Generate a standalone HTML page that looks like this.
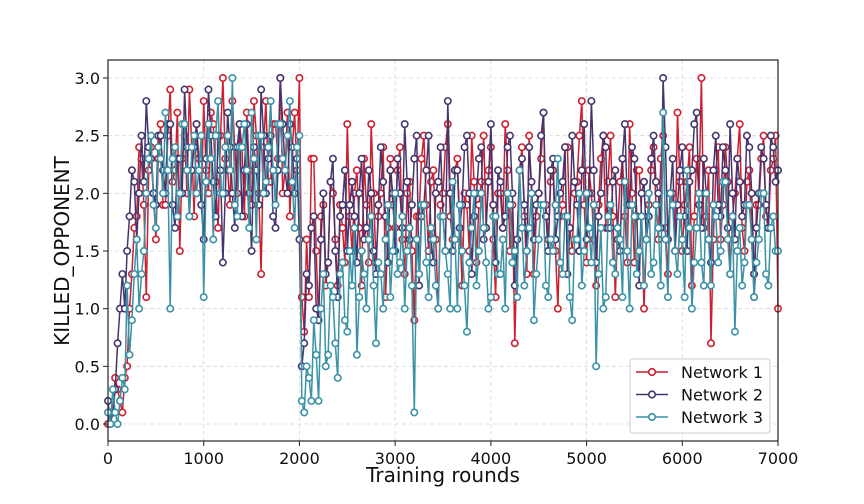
<!DOCTYPE html>
<html><head><meta charset="utf-8"><style>
body{margin:0;background:#fff;}
svg{display:block;font-family:"DejaVu Sans","Liberation Sans",sans-serif;}
</style></head><body>
<svg id="chart" width="864" height="504">
<g id="grid"></g>
<g id="series"></g>
<rect x="108" y="60" width="670" height="381" fill="none" stroke="#222" stroke-width="1.2"/>
<g id="axes"></g>
<text x="443" y="482" text-anchor="middle" font-size="20" fill="#111">Training rounds</text>
<text transform="translate(69,251) rotate(-90)" text-anchor="middle" font-size="20" fill="#111">KILLED_OPPONENT</text>
<g id="legend"></g>
</svg>
<script>
const xTicks=[0,1000,2000,3000,4000,5000,6000,7000];
const yTicks=[0,0.5,1.0,1.5,2.0,2.5,3.0];
const seriesNames=["Network 1","Network 2","Network 3"];
const seriesColors=["#cc1f2f","#45356f","#3a92a6"];
const xMax=7000;
const net1=[0,0.1,0.1,0.4,0.3,0.2,0.1,0.4,0.5,1.0,1.3,1.7,1.8,2.4,2.3,1.9,1.1,2.2,
2.4,2.0,1.6,2.3,2.6,1.9,1.9,2.5,2.9,2.1,2.2,2.7,1.5,2.3,2.5,2.0,2.9,2.4,1.8,2.6,2.3,1.9,2.8,2.2,2.0,2.7,2.6,2.1,1.7,2.5,3.0,2.3,2.2,1.9,2.8,2.4,2.0,2.6,2.4,1.8,2.7,2.2,1.9,2.8,2.5,2.0,1.3,2.4,2.8,2.1,2.1,2.6,2.6,2.3,3.0,2.0,2.2,2.7,1.8,2.4,2.7,2.2,3.0,1.1,
0.8,1.6,1.1,2.3,2.3,1.5,0.9,1.8,1.9,1.2,1.4,2.1,2.0,1.6,1.2,1.9,1.7,1.4,2.6,1.8,
1.5,2.0,2.2,1.7,1.2,2.3,1.9,1.4,2.6,2.0,1.4,1.8,2.0,2.4,1.1,1.7,2.3,1.9,1.7,2.2,
2.4,1.6,1.3,2.0,2.1,1.5,0.9,1.8,1.8,2.3,2.5,1.9,1.5,2.1,2.2,1.6,1.0,1.9,2.0,2.4,
2.6,1.8,1.6,2.2,2.3,1.7,1.2,2.0,1.9,1.5,2.5,2.1,1.4,1.9,2.1,2.5,1.7,2.2,2.4,1.6,
1.1,2.0,2.0,1.7,2.6,2.2,1.5,1.9,0.7,1.6,2.2,2.4,1.8,1.3,2.5,2.0,1.3,1.8,2.0,2.3,
2.7,1.9,1.6,2.1,2.2,1.5,1.0,1.8,1.9,2.4,2.4,1.7,1.5,2.0,2.1,2.5,2.8,1.9,1.4,2.2,
2.0,1.6,1.2,1.9,2.3,2.5,1.7,2.1,2.5,1.8,1.1,1.7,2.1,2.3,1.8,1.4,2.6,2.0,1.4,2.2,
2.2,1.8,1.0,1.6,1.9,2.2,2.4,1.9,1.6,2.3,2.5,1.7,1.3,2.0,2.0,1.5,2.7,2.1,1.5,1.9,
2.1,2.4,1.2,1.8,2.3,2.0,3.0,1.7,1.8,2.2,0.7,1.6,2.2,2.4,1.6,1.9,2.4,2.1,1.3,1.8,
2.0,2.3,2.6,1.7,1.5,2.1,2.2,1.6,1.1,1.9,1.9,2.3,2.5,1.8,1.7,2.2,2.3,2.5,1.0];
const net2=[0.2,0.0,0.1,0.3,0.7,1.0,1.3,1.0,1.5,1.8,2.2,2.1,1.6,2.0,2.5,2.1,2.8,2.4,
2.3,2.0,1.9,2.5,2.5,2.2,2.0,2.6,2.6,1.9,1.7,2.3,2.3,2.0,2.9,2.4,1.8,2.2,2.4,2.6,2.2,1.9,1.6,2.3,2.9,2.5,2.1,1.8,2.5,2.2,1.4,2.0,2.7,2.4,2.0,1.7,2.4,2.6,1.8,2.2,2.6,2.0,1.5,2.4,2.2,1.9,2.9,2.5,2.0,2.3,2.5,1.8,1.7,2.2,3.0,2.6,2.2,2.0,2.6,2.4,2.0,2.3,1.6,0.5,
0.7,1.3,1.2,1.7,1.8,1.0,0.9,1.6,2.0,1.3,1.4,2.1,2.3,1.5,1.1,1.8,1.9,2.2,1.5,1.9,
2.1,1.8,1.4,2.0,2.3,1.6,1.7,2.2,2.0,1.5,1.3,1.9,2.4,2.1,1.8,1.4,2.2,2.0,1.5,2.3,
2.0,1.7,2.6,2.1,1.6,1.9,2.3,2.5,1.2,1.8,1.9,2.2,2.5,1.6,1.4,2.0,2.1,2.4,1.8,1.5,
2.8,2.0,1.5,2.2,2.2,1.7,1.9,2.4,2.5,2.0,1.3,1.8,2.0,2.3,2.4,1.6,1.7,2.1,2.6,1.9,
1.4,2.2,2.1,1.7,1.8,2.4,2.5,2.0,1.2,1.6,2.2,2.3,1.9,1.5,2.4,2.1,1.6,1.9,2.0,2.5,
2.7,1.8,1.5,2.2,2.3,1.6,1.8,2.0,2.1,2.4,1.3,1.7,2.5,2.1,1.9,1.5,2.2,2.6,1.6,2.0,
2.8,2.2,1.4,1.8,2.0,2.5,2.4,1.7,1.7,2.1,2.2,1.6,1.5,2.3,2.6,1.9,1.9,2.4,2.3,1.8,
1.2,2.0,2.1,1.6,1.8,2.3,2.5,2.1,2.0,1.7,3.0,2.4,1.6,2.0,2.3,1.5,1.9,2.2,2.4,1.8,
1.5,2.1,2.2,2.6,2.7,1.9,1.7,2.3,2.0,1.6,1.4,2.2,2.5,1.9,1.8,2.4,2.2,1.7,2.6,2.0,
1.6,2.3,2.1,1.8,1.9,2.5,2.4,2.0,1.3,1.7,2.0,2.4,2.3,1.9,1.7,2.5,2.4,2.1,2.2];
const net3=[0.1,0.0,0.3,0.1,0.0,0.2,0.4,0.3,1.2,0.6,0.9,1.3,1.6,1.0,1.3,1.5,2.0,2.3,
2.5,1.9,1.7,2.4,2.3,2.0,2.7,2.2,1.0,2.3,2.4,1.8,2.0,2.6,2.6,2.2,1.8,2.4,2.5,2.0,2.2,2.5,1.1,2.1,2.6,2.3,1.6,2.5,2.8,2.0,2.0,2.4,2.5,2.2,3.0,1.9,1.8,2.4,2.4,2.6,2.2,1.7,2.7,2.3,1.6,2.5,2.5,2.0,2.1,2.4,2.8,2.2,1.9,2.6,2.6,2.3,2.2,2.5,2.8,2.1,1.7,2.4,2.5,0.2,
0.1,0.5,0.4,0.2,0.9,0.6,0.2,1.0,1.3,0.5,0.6,1.2,1.1,0.7,0.4,1.3,1.4,0.9,0.8,1.5,
1.2,1.7,0.6,1.1,1.5,1.3,1.0,1.6,1.8,1.2,0.7,1.4,1.3,1.0,1.6,1.9,1.1,1.5,2.0,1.3,
1.4,1.8,1.0,1.5,1.7,1.2,0.1,1.6,1.3,1.9,1.9,1.4,1.1,1.7,1.6,1.2,1.0,1.8,1.8,1.5,
1.3,1.0,2.1,1.6,1.0,1.9,1.5,1.2,0.8,1.4,1.7,2.0,1.2,1.5,2.0,1.7,1.4,1.0,1.1,1.8,
1.8,1.3,1.3,1.6,1.0,2.0,1.9,1.4,1.5,1.1,2.2,1.7,1.2,1.5,1.7,2.0,0.9,1.3,1.6,1.9,
1.9,1.2,1.1,1.6,1.5,1.9,2.3,1.4,1.3,1.8,1.8,1.1,0.9,1.6,1.6,2.0,1.2,1.5,2.0,1.7,
1.4,1.9,0.5,1.3,1.7,1.0,1.1,1.8,1.9,1.4,1.3,1.7,1.6,1.1,2.1,1.5,1.0,1.9,1.8,1.3,
1.5,1.8,1.2,1.6,2.0,1.3,1.4,1.9,1.7,1.2,2.7,1.6,1.1,2.0,1.9,1.5,1.3,1.8,1.6,1.1,
2.2,1.7,1.0,1.4,1.7,2.0,1.4,1.2,2.0,1.6,1.2,1.9,1.8,1.4,1.5,2.1,2.1,1.6,1.3,1.8,
0.8,1.5,1.7,1.2,1.4,1.9,1.9,1.6,1.1,1.4,1.6,2.0,2.0,1.3,1.2,1.7,1.8,1.5,1.5];
const allSeries=[net1,net2,net3];

const NS="http://www.w3.org/2000/svg";
function xs(v){return 108+v*(670/7000);}
function ys(v){return 424-v*(346/3);}
function mk(tag,attrs,parent){const e=document.createElementNS(NS,tag);for(const k in attrs)e.setAttribute(k,attrs[k]);parent.appendChild(e);return e;}
const grid=document.getElementById('grid'),axes=document.getElementById('axes');
xTicks.forEach(t=>{
  const g=mk('line',{x1:xs(t),x2:xs(t),y1:60,y2:441,stroke:'#d6d6d6','stroke-dasharray':'4,3','stroke-width':0.8},grid);
  
  
  const tk=mk('line',{x1:xs(t),x2:xs(t),y1:441,y2:446,stroke:'#222'},axes);
  
  
  const tx=mk('text',{x:xs(t),y:464,'text-anchor':'middle','font-size':16,fill:'#111'},axes);
  tx.textContent=t;
  
  
});
yTicks.forEach(t=>{
  const g=mk('line',{x1:108,x2:778,y1:ys(t),y2:ys(t),stroke:'#d6d6d6','stroke-dasharray':'4,3','stroke-width':0.8},grid);
  
  
  const tk=mk('line',{x1:103,x2:108,y1:ys(t),y2:ys(t),stroke:'#222'},axes);
  
  
  const tx=mk('text',{x:100,y:ys(t)+6,'text-anchor':'end','font-size':16,fill:'#111'},axes);
  tx.textContent=t.toFixed(1);
  
  
});
const sl=document.getElementById('series');
allSeries.forEach((arr,si)=>{
  const step=xMax/(arr.length-1);
  const g=mk('g',{},sl);
  
  
  const pts=arr.map((v,i)=>xs(i*step).toFixed(1)+','+ys(v).toFixed(1)).join(' ');
  const pl=mk('polyline',{points:pts,fill:'none',stroke:seriesColors[si],'stroke-width':1.5},g);
  
  
  arr.forEach((v,i)=>{
    const c=mk('circle',{cx:xs(i*step),cy:ys(v),r:3.2,fill:'#fff',stroke:seriesColors[si],'stroke-width':1.6},g);
    
    
  });
});
const lg=document.getElementById('legend');
const box=mk('rect',{x:630,y:359,width:140,height:74,rx:3,fill:'#fff','fill-opacity':0.85,stroke:'#ccc'},lg);


seriesNames.forEach((n,i)=>{
  const y=372+i*22.5;
  const g=mk('g',{},lg);
  
  
  mk('line',{x1:636,x2:668,y1:y,y2:y,stroke:seriesColors[i],'stroke-width':1.5},g);
  mk('circle',{cx:652,cy:y,r:3.3,fill:'#fff',stroke:seriesColors[i],'stroke-width':1.6},g);
  const t=mk('text',{x:681,y:y+6,'font-size':16,fill:'#111'},g);
  t.textContent=n;
});
</script>
</body></html>
